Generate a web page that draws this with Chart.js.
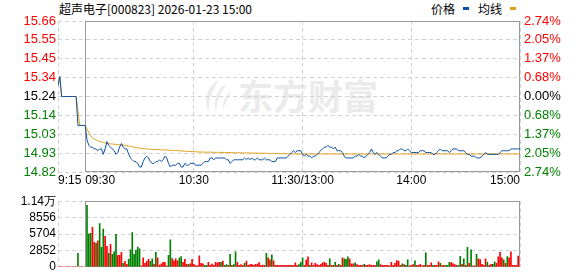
<!DOCTYPE html>
<html>
<head>
<meta charset="utf-8">
<script src="https://cdn.jsdelivr.net/npm/chart.js@4.4.1/dist/chart.umd.min.js"></script>
<style>
    html, body { margin: 0; padding: 0; background: #fff; }
    #wrap { position: relative; width: 578px; height: 276px; overflow: hidden; }
    #mark { position: absolute; left: 238px; top: 77px; font: bold 35px "Noto Sans CJK SC"; line-height: 35px; color: #ebebeb; white-space: nowrap; }
    #logo { position: absolute; left: 199px; top: 79px; }
    #title { position: absolute; left: 59px; top: 0; font: 12px "Noto Sans CJK SC"; line-height: 17px; color: #000; white-space: nowrap; }
    #legend { position: absolute; left: 431px; top: 0; font: 12px "Noto Sans CJK SC"; line-height: 17px; color: #000; white-space: nowrap; }
    #legend i { display: inline-block; width: 6px; height: 3px; vertical-align: 4px; margin: 0 9px 0 8px; }
    canvas { position: absolute; left: 0; }
</style>
</head>
<body>
<div id="wrap">
    <svg id="logo" width="34" height="34" viewBox="0 0 34 34">
        <path d="M20 1 C8 8 4 20 10 33 C9 22 13 12 20 1 Z" fill="#ebebeb"/>
        <path d="M28 4 C18 10 14 20 17 32 C18 22 22 13 28 4 Z" fill="#ebebeb"/>
        <path d="M33 12 C26 16 23 23 24 31 C26 24 29 18 33 12 Z" fill="#ebebeb"/>
    </svg>
    <div id="mark">东方财富</div>
    <div id="title">超声电子[000823] 2026-01-23 15:00</div>
    <div id="legend">价格<i style="background:#0b4ea2"></i>均线<i style="background:#e1a01c"></i></div>
    <canvas id="priceChart" width="578" height="192" style="top:0"></canvas>
    <canvas id="volChart" width="578" height="84" style="top:192px"></canvas>
</div>
<script>
// axis ticks
const priceTicks = [14.8224, 14.9268, 15.0312, 15.1356, 15.24, 15.3444, 15.4488, 15.5532, 15.6576];
const priceTickLabels = ['14.82', '14.93', '15.03', '15.14', '15.24', '15.34', '15.45', '15.55', '15.66'];
const pctTickLabels = ['2.74%', '2.05%', '1.37%', '0.68%', '0.00%', '0.68%', '1.37%', '2.05%', '2.74%'];
const timeTicks = [0, 15, 75, 135, 195, 255];
const timeLabels = ['9:15', '09:30', '10:30', '11:30/13:00', '14:00', '15:00'];
const volTicks = [0, 2852, 5704, 8556, 11408];
const volTickLabels = ['0', '2852', '5704', '8556', '1.14万'];

// one value per minute: 9:15-9:29 auction, then 9:30-11:30, 13:01-15:00
const prices = [
    15.30, 15.35, 15.24, 15.24, 15.24, 15.24, 15.24, 15.24, 15.24, 15.24,
    15.24, 15.08, 15.08, 15.08, 15.08,
    15.08, 15.00, 14.97, 14.96, 14.96, 14.95, 14.95, 14.94, 14.95, 14.95,
    14.92, 14.95, 14.99, 14.97, 14.96, 14.95, 14.94, 14.92, 14.93, 14.96,
    14.98, 14.96, 14.95, 14.95, 14.92, 14.90, 14.89, 14.88, 14.88, 14.87,
    14.85, 14.85, 14.88, 14.90, 14.91, 14.90, 14.88, 14.87, 14.87, 14.88,
    14.88, 14.89, 14.88, 14.89, 14.91, 14.90, 14.87, 14.85, 14.86, 14.86,
    14.86, 14.87, 14.87, 14.85, 14.85, 14.87, 14.86, 14.86, 14.87, 14.87,
    14.87, 14.86, 14.86, 14.86, 14.86, 14.87, 14.88, 14.88, 14.88, 14.90,
    14.90, 14.89, 14.90, 14.90, 14.90, 14.90, 14.90, 14.90, 14.89, 14.89,
    14.87, 14.88, 14.89, 14.89, 14.89, 14.89, 14.89, 14.89, 14.90, 14.89,
    14.90, 14.89, 14.90, 14.89, 14.89, 14.90, 14.89, 14.89, 14.89, 14.90,
    14.89, 14.89, 14.89, 14.88, 14.88, 14.88, 14.90, 14.90, 14.90, 14.90,
    14.90, 14.90, 14.91, 14.92, 14.93, 14.94, 14.93, 14.94, 14.94, 14.94,
    14.92, 14.91, 14.92, 14.91, 14.91, 14.90, 14.91, 14.91, 14.92, 14.93,
    14.94, 14.95, 14.96, 14.96, 14.97, 14.96, 14.96, 14.95, 14.96, 14.94,
    14.94, 14.94, 14.93, 14.91, 14.90, 14.90, 14.90, 14.90, 14.90, 14.91,
    14.91, 14.92, 14.91, 14.91, 14.90, 14.91, 14.92, 14.93, 14.95, 14.93,
    14.92, 14.93, 14.92, 14.91, 14.90, 14.90, 14.90, 14.91, 14.92, 14.92,
    14.93, 14.93, 14.94, 14.94, 14.95, 14.95, 14.94, 14.94, 14.95, 14.94,
    14.93, 14.93, 14.93, 14.93, 14.93, 14.94, 14.94, 14.94, 14.93, 14.93,
    14.93, 14.93, 14.92, 14.92, 14.93, 14.94, 14.95, 14.94, 14.94, 14.94,
    14.94, 14.93, 14.94, 14.95, 14.95, 14.95, 14.94, 14.94, 14.94, 14.94,
    14.93, 14.92, 14.92, 14.91, 14.91, 14.91, 14.90, 14.90, 14.90, 14.91,
    14.92, 14.93, 14.92, 14.92, 14.92, 14.92, 14.92, 14.92, 14.92, 14.93,
    14.94, 14.94, 14.94, 14.94, 14.94, 14.95, 14.95, 14.95, 14.95, 14.95,
    14.95
];

const avgPrices = [
    15.30, 15.35, 15.24, 15.24, 15.24, 15.24, 15.24, 15.24, 15.24, 15.24,
    15.24, 15.16, 15.08, 15.08, 15.08,
    15.08, 15.06, 15.04, 15.025, 15.012, 15.005, 15.000, 14.995, 14.991, 14.988,
    14.985, 14.983, 14.981, 14.979, 14.978, 14.977, 14.976, 14.975, 14.974, 14.973,
    14.972, 14.971, 14.970, 14.968, 14.966, 14.964, 14.962, 14.960, 14.958, 14.956,
    14.954, 14.953, 14.952, 14.951, 14.950, 14.949, 14.948, 14.948, 14.947, 14.947,
    14.946, 14.946, 14.945, 14.945, 14.944, 14.944, 14.943, 14.943, 14.942, 14.942,
    14.941, 14.941, 14.940, 14.939, 14.938, 14.937, 14.937, 14.936, 14.936, 14.935,
    14.935, 14.934, 14.934, 14.933, 14.933, 14.933, 14.932, 14.932, 14.932, 14.932,
    14.932, 14.931, 14.931, 14.931, 14.931, 14.931, 14.930, 14.930, 14.930, 14.930,
    14.930, 14.929, 14.929, 14.929, 14.929, 14.929, 14.928, 14.928, 14.928, 14.928,
    14.928, 14.927, 14.927, 14.927, 14.927, 14.927, 14.926, 14.926, 14.926, 14.926,
    14.926, 14.925, 14.925, 14.925, 14.925, 14.925, 14.924, 14.924, 14.924, 14.924,
    14.924, 14.923, 14.923, 14.923, 14.923, 14.923, 14.922, 14.922, 14.922, 14.922,
    14.922, 14.922, 14.922, 14.922, 14.922, 14.922, 14.922, 14.922, 14.922, 14.922,
    14.922, 14.922, 14.922, 14.922, 14.922, 14.922, 14.922, 14.922, 14.922, 14.922,
    14.922, 14.922, 14.922, 14.922, 14.922, 14.922, 14.922, 14.922, 14.922, 14.922,
    14.922, 14.922, 14.922, 14.922, 14.922, 14.922, 14.922, 14.922, 14.922, 14.922,
    14.922, 14.922, 14.922, 14.922, 14.922, 14.922, 14.922, 14.922, 14.922, 14.922,
    14.922, 14.922, 14.922, 14.922, 14.922, 14.922, 14.922, 14.922, 14.922, 14.922,
    14.922, 14.922, 14.922, 14.922, 14.922, 14.922, 14.922, 14.922, 14.922, 14.922,
    14.922, 14.922, 14.922, 14.922, 14.922, 14.922, 14.922, 14.922, 14.922, 14.922,
    14.922, 14.922, 14.922, 14.922, 14.922, 14.922, 14.922, 14.922, 14.922, 14.922,
    14.922, 14.922, 14.922, 14.922, 14.922, 14.922, 14.922, 14.922, 14.922, 14.922,
    14.922, 14.922, 14.922, 14.922, 14.922, 14.922, 14.922, 14.922, 14.922, 14.922,
    14.922, 14.922, 14.922, 14.922, 14.922, 14.922, 14.922, 14.922, 14.922, 14.922,
    14.922
];

// shares per minute, same index as prices
const volumes = [
    0, 0, 0, 0, 0, 0, 0, 0, 0, 0,
    0, 2340, 0, 0, 0,
    0, 10680, 5730, 5830, 6880, 4270, 4060, 4530, 7500, 3390,
    6560, 5310, 3540, 2340, 3900, 2190, 2600, 5630, 1980, 1980,
    2500, 625, 940, 420, 1300, 2970, 5940, 2190, 2870, 3440,
    3130, 150, 1560, 625, 940, 1300, 940, 1400, 420, 2500,
    1560, 310, 520, 780, 780, 150, 1980, 4690, 1450, 1050,
    1400, 1050, 1560, 1770, 780, 1300, 420, 420, 520, 1300,
    420, 210, 210, 1920, 625, 520, 260, 260, 780, 260,
    470, 260, 780, 680, 780, 780, 990, 260, 365, 260,
    2190, 260, 365, 2600, 780, 260, 365, 260, 625, 990,
    260, 365, 415, 260, 415, 470, 730, 260, 300, 260,
    2340, 1560, 1200, 2080, 1040, 260, 260, 260, 260, 260,
    260, 260, 260, 260, 260, 260, 680, 260, 365, 780,
    1560, 260, 1150, 1720, 260, 680, 260, 625, 365, 260,
    415, 680, 780, 625, 260, 1400, 260, 260, 780, 260,
    415, 260, 1560, 1400, 1300, 1720, 1400, 520, 520, 680,
    365, 260, 260, 260, 415, 260, 260, 365, 260, 260,
    260, 885, 1200, 365, 260, 260, 260, 260, 156, 780,
    260, 625, 1090, 990, 260, 520, 365, 260, 1200, 156,
    260, 365, 1040, 260, 260, 415, 156, 260, 2450, 260,
    260, 680, 260, 260, 260, 885, 625, 260, 260, 260,
    260, 780, 730, 570, 365, 260, 260, 1820, 415, 1400,
    260, 3390, 625, 2970, 156, 156, 2190, 1400, 1250, 415,
    260, 1400, 780, 260, 415, 415, 885, 625, 1720, 2500,
    1560, 1200, 625, 1770, 1560, 2600, 260, 260, 260, 1880,
    0
];

// r = traded up (red), g = traded down (green)
const volSide = (
    'rrrrrrrrrr' + 'rgrrr' +
    'ggggrrgrgg' + 'grrgrgggrr' + 'rgrrgggggg' + 'grrrrrggrg' +
    'rrrrrrggrr' + 'rrggrrrgrr' + 'rrrrrrggrr' + 'rrrrrgrggr' +
    'grggrrrrgr' + 'rrrrrrrrrr' + 'grrgrrrrrr' + 'rrrrrrrrgg' +
    'grrrgrrrrr' + 'rrrrrgrrgr' + 'grrgggrrrg' + 'rrrrgrrrrr' +
    'rggrrrrrrr' + 'rrrrrgrggr' + 'rrgrrrrrgr' + 'rrgrrrgrrg' +
    'ggrrrrggrg' + 'rgrgrrgrrr' + 'rrgrrggrrr' + 'rgrgrrrrrr' + 'r'
).split('');

const BLUE = '#0b4ea2';
const ORANGE = '#e1a01c';
const RED = '#ff0000';
const GREEN = '#008000';
const GRID = '#d2d2d2';
const FRAME = '#999999';

// solid box starts at 9:30, the auction strip only has the dashed grid
const framePlugin = {
    id: 'frame',
    beforeDatasetsDraw(chart) {
        const { ctx, chartArea, scales } = chart;
        const x0 = Math.round(scales.x.getPixelForValue(15)) + 0.5;
        const x1 = Math.round(scales.x.getPixelForValue(255)) - 0.5;
        const y0 = Math.round(chartArea.top) + 0.5;
        const y1 = Math.round(chartArea.bottom) - 0.5;
        ctx.save();
        ctx.strokeStyle = FRAME;
        ctx.lineWidth = 1;
        ctx.strokeRect(x0, y0, x1 - x0, y1 - y0);
        ctx.restore();
    }
};

// time labels: first two start at their tick, last one ends at it
const timeLabelPlugin = {
    id: 'timeLabels',
    afterDraw(chart) {
        const { ctx, scales } = chart;
        const aligns = ['left', 'left', 'center', 'center', 'center', 'right'];
        ctx.save();
        ctx.font = '12px "Liberation Sans"';
        ctx.fillStyle = '#000';
        ctx.textBaseline = 'middle';
        timeTicks.forEach((t, i) => {
            ctx.textAlign = aligns[i];
            ctx.fillText(timeLabels[i], scales.x.getPixelForValue(t), 181);
        });
        ctx.restore();
    }
};

function sideColor(i) {
    return i < 4 ? GREEN : i > 4 ? RED : '#000';
}

function timeAxis() {
    return {
        type: 'linear',
        min: 0,
        max: 255,
        offset: false,
        afterBuildTicks: (scale) => { scale.ticks = timeTicks.map(v => ({ value: v })); },
        afterFit: (scale) => { scale.height = 0; },
        ticks: { display: false },
        grid: { color: GRID, drawTicks: false, offset: false },
        border: { display: false, dash: [4, 3] }
    };
}

function initPriceChart() {
    new Chart(document.getElementById('priceChart'), {
        type: 'line',
        data: {
            datasets: [
                {
                    label: '价格',
                    data: prices.map((v, i) => ({ x: i, y: v })),
                    borderColor: BLUE,
                    borderWidth: 1,
                    pointRadius: 0,
                    tension: 0
                },
                {
                    label: '均线',
                    data: avgPrices.map((v, i) => ({ x: i, y: v })),
                    borderColor: ORANGE,
                    borderWidth: 1,
                    pointRadius: 0,
                    tension: 0
                }
            ]
        },
        options: {
            responsive: false,
            animation: false,
            events: [],
            layout: { padding: { top: 21, bottom: 20, left: 0, right: 0 } },
            plugins: { legend: { display: false }, tooltip: { enabled: false } },
            scales: {
                x: timeAxis(),
                y: {
                    position: 'left',
                    min: priceTicks[0],
                    max: priceTicks[priceTicks.length - 1],
                    afterBuildTicks: (scale) => { scale.ticks = priceTicks.map(v => ({ value: v })); },
                    afterFit: (scale) => { scale.width = 58; },
                    ticks: {
                        padding: 2,
                        autoSkip: false,
                        font: { family: 'Liberation Sans', size: 13 },
                        color: (c) => sideColor(c.index),
                        callback: (v, i) => priceTickLabels[i]
                    },
                    grid: { color: GRID, drawTicks: false },
                    border: { display: false, dash: [4, 3] }
                },
                y2: {
                    position: 'right',
                    min: priceTicks[0],
                    max: priceTicks[priceTicks.length - 1],
                    afterBuildTicks: (scale) => { scale.ticks = priceTicks.map(v => ({ value: v })); },
                    afterFit: (scale) => { scale.width = 58; },
                    ticks: {
                        padding: 4,
                        autoSkip: false,
                        font: { family: 'Liberation Sans', size: 13 },
                        color: (c) => sideColor(c.index),
                        callback: (v, i) => pctTickLabels[i]
                    },
                    grid: { display: false, drawTicks: false },
                    border: { display: false }
                }
            }
        },
        plugins: [framePlugin, timeLabelPlugin]
    });
}

function initVolumeChart() {
    new Chart(document.getElementById('volChart'), {
        type: 'bar',
        data: {
            datasets: [{
                data: volumes.map((v, i) => ({ x: i, y: v })),
                backgroundColor: volSide.map(s => s === 'g' ? GREEN : RED),
                barThickness: 1,
                borderWidth: 0
            }]
        },
        options: {
            responsive: false,
            animation: false,
            events: [],
            layout: { padding: { top: 4, bottom: 6, left: 0, right: 58 } },
            plugins: { legend: { display: false }, tooltip: { enabled: false } },
            scales: {
                x: timeAxis(),
                y: {
                    position: 'left',
                    min: 0,
                    max: volTicks[volTicks.length - 1],
                    afterBuildTicks: (scale) => { scale.ticks = volTicks.map(v => ({ value: v })); },
                    afterFit: (scale) => { scale.width = 58; },
                    ticks: {
                        padding: 2,
                        autoSkip: false,
                        font: { family: 'Liberation Sans', size: 12 },
                        color: '#000',
                        callback: (v, i) => volTickLabels[i]
                    },
                    grid: { color: GRID, drawTicks: false },
                    border: { display: false, dash: [4, 3] }
                }
            }
        },
        plugins: [framePlugin]
    });
}

initPriceChart();
initVolumeChart();
</script>
</body>
</html>
